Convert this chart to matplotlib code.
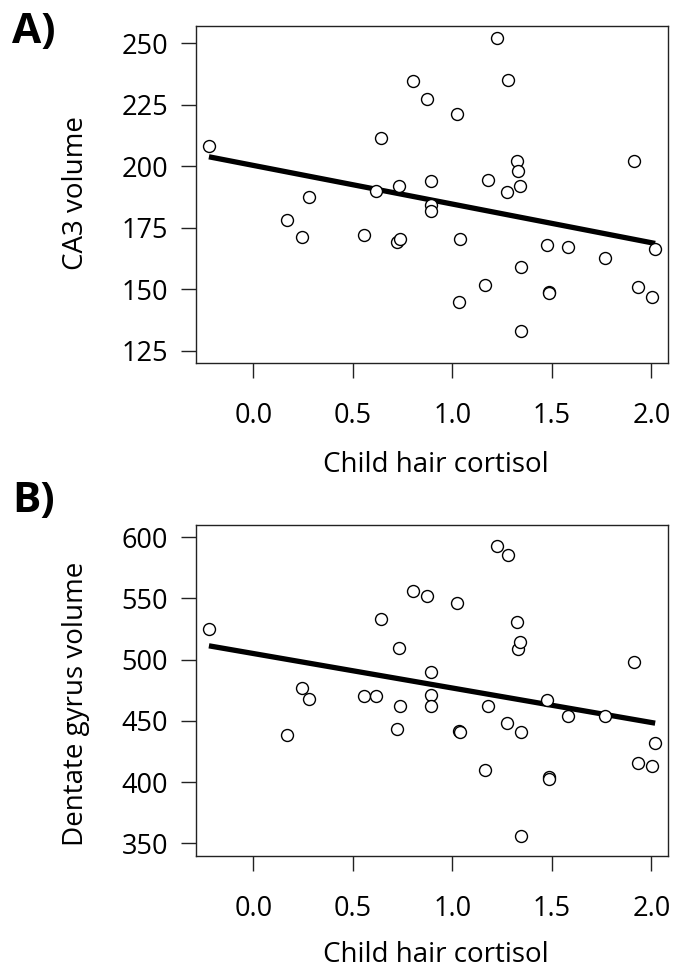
import matplotlib
matplotlib.use("Agg")
import matplotlib.pyplot as plt
import numpy as np


FIG_W, FIG_H = 674, 973
DPI = 100

# child hair cortisol (shared by both panels)
cortisol = [
    -0.223, 0.171, 0.243, 0.280, 0.556, 0.615, 0.642, 0.722, 0.731, 0.739,
    0.801, 0.873, 0.894, 0.894, 0.894, 1.024, 1.032, 1.039, 1.166, 1.181,
    1.225, 1.275, 1.281, 1.325, 1.332, 1.339, 1.347, 1.347, 1.474, 1.485,
    1.488, 1.582, 1.769, 1.913, 1.933, 2.002, 2.019,
]

ca3_volume = [
    208.4, 178.3, 171.4, 187.7, 172.0, 190.1, 211.5, 169.2, 191.9, 170.5,
    234.7, 227.3, 194.1, 184.3, 181.9, 221.4, 144.8, 170.4, 151.7, 194.6,
    252.2, 189.5, 235.2, 202.2, 198.1, 192.0, 159.2, 133.1, 167.9, 148.9,
    148.4, 167.4, 162.8, 202.2, 151.1, 147.1, 166.6,
]

dg_volume = [
    525.1, 438.5, 477.1, 467.6, 470.1, 470.1, 533.3, 443.4, 509.8, 461.9,
    556.4, 551.8, 490.0, 471.4, 461.9, 546.1, 441.5, 440.5, 409.6, 461.9,
    592.9, 448.3, 585.5, 530.8, 508.7, 514.7, 441.2, 356.2, 467.1, 404.4,
    402.8, 453.9, 453.9, 498.1, 415.4, 413.2, 431.7,
]

x_ticks = [0.0, 0.5, 1.0, 1.5, 2.0]
ca3_ticks = [125, 150, 175, 200, 225, 250]
dg_ticks = [350, 400, 450, 500, 550, 600]

FONT = ["Open Sans", "DejaVu Sans"]
FONT_SIZE = 19.5


def px_box(left, top, right, bottom):
    # pixel box (top-left origin) -> figure fraction [l, b, w, h]
    return [left / FIG_W, 1 - bottom / FIG_H, (right - left) / FIG_W, (bottom - top) / FIG_H]


def draw_panel(fig, box, x, y, yticks, ylim, ylabel, ylabel_y, xlabel_base, letter, letter_base):
    ax = fig.add_axes(px_box(*box))
    x = np.asarray(x)
    y = np.asarray(y)

    ax.plot(x, y, "o", mfc="white", mec="black", ms=8.6, mew=1.0, zorder=3)

    slope, intercept = np.polyfit(x, y, 1)
    xs = np.array([x.min(), x.max()])
    ax.plot(xs, intercept + slope * xs, color="black", lw=3.8, solid_capstyle="butt", zorder=2)

    ax.set_xlim(-0.288, 2.081)
    ax.set_ylim(*ylim)
    ax.set_xticks(x_ticks)
    ax.set_xticklabels([f"{t:.1f}" for t in x_ticks])
    ax.set_yticks(yticks)
    ax.set_yticklabels([str(t) for t in yticks])

    for spine in ax.spines.values():
        spine.set_linewidth(1.0)
        spine.set_color("#222222")

    ax.tick_params(axis="both", direction="out", length=11, width=1.0, color="#222222",
                   labelsize=FONT_SIZE)
    ax.tick_params(axis="y", pad=9)
    ax.tick_params(axis="x", pad=17)
    for lab in ax.get_xticklabels() + ax.get_yticklabels():
        lab.set_family(FONT)

    cx = (box[0] + box[2]) / 2 + 4
    fig.text(cx / FIG_W, 1 - xlabel_base / FIG_H, "Child hair cortisol",
             ha="center", va="baseline", fontsize=FONT_SIZE + 0.5, family=FONT)
    fig.text(76 / FIG_W, 1 - ylabel_y / FIG_H, ylabel, rotation=90,
             ha="center", va="center", fontsize=FONT_SIZE + 0.5, family=FONT)
    fig.text(12 / FIG_W, 1 - letter_base / FIG_H, letter, ha="left", va="baseline",
             fontsize=30.5, fontweight="bold", family=FONT)
    return ax


def main():
    fig = plt.figure(figsize=(FIG_W / DPI, FIG_H / DPI), dpi=DPI)
    fig.patch.set_facecolor("white")

    draw_panel(fig, (196, 25.7, 667.5, 363.3), cortisol, ca3_volume, ca3_ticks,
               (120.0, 257.15), "CA3 volume", 193, 471.7, "A)", 43.3)
    draw_panel(fig, (196, 525, 667.5, 856), cortisol, dg_volume, dg_ticks,
               (339.6, 610.0), "Dentate gyrus volume", 704, 961.7, "B)", 512)

    fig.savefig("out.png", dpi=DPI, facecolor="white")


if __name__ == "__main__":
    main()
